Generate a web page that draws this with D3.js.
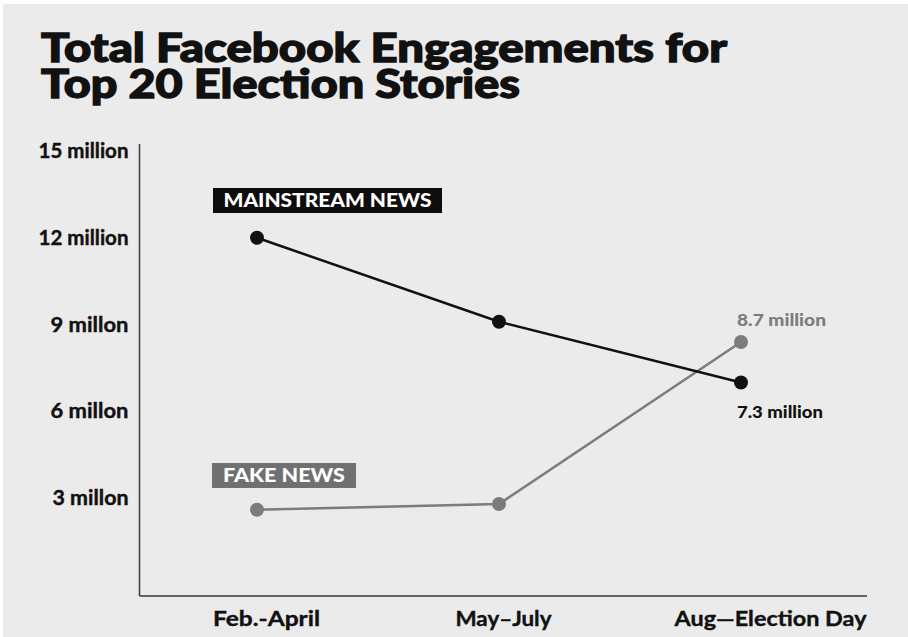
<!DOCTYPE html>
<html>
<head>
<meta charset="utf-8">
<script src="https://cdn.jsdelivr.net/npm/d3@7"></script>
<style>
  html, body { margin: 0; padding: 0; background: #ffffff; }
  #chart-area { width: 908px; height: 637px; }
  text { font-family: "Lato", "Open Sans", sans-serif; }
</style>
</head>
<body>
<div id="chart-area"></div>
<script>
// data
const periods = ["Feb.-April", "May–July", "Aug—Election Day"];
const mainstream = [12, 9.1, 7.0];   // millions
const fake = [2.6, 2.8, 8.4];        // millions
const yTicks = [3, 6, 9, 12, 15];
const yTickLabels = ["3 millon", "6 millon", "9 millon", "12 million", "15 million"];
const seriesNames = ["MAINSTREAM NEWS", "FAKE NEWS"];
const endLabels = ["7.3 million", "8.7 million"];
const titleLines = ["Total Facebook Engagements for", "Top 20 Election Stories"];

const W = 908, H = 637;
const black = "#111111", gray = "#7c7c7c";

const svg = d3.select("#chart-area")
    .append("svg")
    .attr("width", W)
    .attr("height", H);

svg.append("rect")
    .attr("x", 3).attr("y", 4)
    .attr("width", W - 3).attr("height", H - 4)
    .attr("fill", "#ebebeb");

// title (heavy face, stroked a bit to get closer to the black weight)
const titleW = [686, 479];
svg.selectAll(".title")
    .data(titleLines)
    .enter().append("text")
    .attr("class", "title")
    .attr("x", 41)
    .attr("y", (d, i) => 62 + i * 36)
    .attr("textLength", (d, i) => titleW[i])
    .attr("lengthAdjust", "spacingAndGlyphs")
    .style("font-size", "39px")
    .style("font-weight", 900)
    .attr("fill", black)
    .attr("stroke", black)
    .attr("stroke-width", 1.3)
    .text(d => d);

// scales
const x = d3.scalePoint()
    .domain(periods)
    .range([257, 741]);

const y = d3.scaleLinear()
    .domain([0, 15])
    .range([585, 151]);

const axisX0 = 139.5, axisY0 = 596;

// axis lines
svg.append("line")
    .attr("x1", axisX0).attr("x2", axisX0)
    .attr("y1", y(15) - 7).attr("y2", axisY0)
    .attr("stroke", "#3a3a3a").attr("stroke-width", 1.5);
svg.append("line")
    .attr("x1", axisX0).attr("x2", 867)
    .attr("y1", axisY0).attr("y2", axisY0)
    .attr("stroke", "#3a3a3a").attr("stroke-width", 1.5);

// y axis labels
const yLabelW = [76, 78, 78, 90, 90];
const yAxisCall = d3.axisLeft(y)
    .tickValues(yTicks)
    .tickSize(0)
    .tickPadding(11)
    .tickFormat((d, i) => yTickLabels[i]);

const yAxisGroup = svg.append("g")
    .attr("transform", `translate(${axisX0}, 0)`)
    .call(yAxisCall);
yAxisGroup.select(".domain").remove();
yAxisGroup.selectAll("text")
    .attr("textLength", (d, i) => yLabelW[i])
    .attr("lengthAdjust", "spacingAndGlyphs")
    .style("font-family", "Lato, sans-serif")
    .style("font-size", "20px")
    .style("font-weight", 700)
    .attr("stroke", black)
    .attr("stroke-width", 0.4)
    .attr("fill", black);

// x axis labels
const xShift = [9, 4, 29];
const xLabelW = [107, 96, 192];
const xAxisCall = d3.axisBottom(x).tickSize(0).tickPadding(15);
const xAxisGroup = svg.append("g")
    .attr("transform", `translate(0, ${axisY0})`)
    .call(xAxisCall);
xAxisGroup.select(".domain").remove();
xAxisGroup.selectAll("text")
    .attr("dx", (d, i) => xShift[i])
    .attr("textLength", (d, i) => xLabelW[i])
    .attr("lengthAdjust", "spacingAndGlyphs")
    .style("font-family", "Lato, sans-serif")
    .style("font-size", "21px")
    .style("font-weight", 700)
    .attr("stroke", black)
    .attr("stroke-width", 0.4)
    .attr("fill", black);

// lines and points
const series = [
    { name: seriesNames[0], values: mainstream, color: black },
    { name: seriesNames[1], values: fake, color: gray }
];

const line = d3.line()
    .x((d, i) => x(periods[i]))
    .y(d => y(d));

series.slice().reverse().forEach(s => {
    svg.append("path")
        .datum(s.values)
        .attr("d", line)
        .attr("fill", "none")
        .attr("stroke", s.color)
        .attr("stroke-width", 2.5);
    svg.selectAll(null)
        .data(s.values)
        .enter().append("circle")
        .attr("cx", (d, i) => x(periods[i]))
        .attr("cy", d => y(d))
        .attr("r", 7)
        .attr("fill", s.color);
});

// series label boxes
const boxes = [
    { text: seriesNames[0], x: 213, y: 188, w: 229, h: 25, fill: "#0d0d0d", tw: 208 },
    { text: seriesNames[1], x: 212, y: 463, w: 144, h: 25, fill: "#707070", tw: 122 }
];
boxes.forEach(b => {
    svg.append("rect")
        .attr("x", b.x).attr("y", b.y)
        .attr("width", b.w).attr("height", b.h)
        .attr("fill", b.fill);
    svg.append("text")
        .attr("x", b.x + b.w / 2)
        .attr("y", b.y + 19)
        .attr("text-anchor", "middle")
        .attr("textLength", b.tw)
        .attr("lengthAdjust", "spacingAndGlyphs")
        .style("font-size", "19px")
        .style("font-weight", 900)
        .attr("fill", "#ffffff")
        .text(b.text);
});

// end value labels
svg.append("text")
    .attr("x", x(periods[2]) - 4)
    .attr("y", 326)
    .attr("textLength", 89)
    .attr("lengthAdjust", "spacingAndGlyphs")
    .style("font-size", "16px")
    .style("font-weight", 900)
    .attr("fill", gray)
    .text(endLabels[1]);

svg.append("text")
    .attr("x", x(periods[2]) - 4)
    .attr("y", 418)
    .attr("textLength", 86)
    .attr("lengthAdjust", "spacingAndGlyphs")
    .style("font-size", "16px")
    .style("font-weight", 900)
    .attr("fill", black)
    .text(endLabels[0]);
</script>
</body>
</html>
